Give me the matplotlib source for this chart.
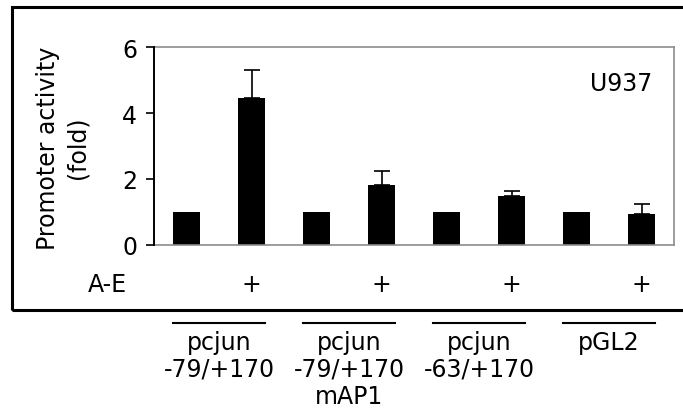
import matplotlib
matplotlib.use("Agg")
import matplotlib.pyplot as plt
import matplotlib.transforms as mtrans
from matplotlib.lines import Line2D
from matplotlib.patches import Rectangle
import numpy as np

# fold promoter activity, U937 cells; odd bars = control, even = + A-E
values = [1.0, 4.45, 1.0, 1.83, 1.0, 1.47, 1.0, 0.93]
errors = [0.0, 0.84, 0.0, 0.42, 0.0, 0.18, 0.0, 0.30]
ae_marks = ["", "+", "", "+", "", "+", "", "+"]
groups = ["pcjun\n-79/+170", "pcjun\n-79/+170\nmAP1", "pcjun\n-63/+170", "pGL2"]
yticks = [0, 2, 4, 6]

W, H = 683, 414
FS = 17
GRAY = "#8c8c8c"

plt.rcParams["font.family"] = "DejaVu Sans"

fig = plt.figure(figsize=(W / 100, H / 100), dpi=100)
ax = fig.add_axes([154 / W, 1 - 246 / H, 520 / W, 198 / H])

x = np.arange(len(values)) + 0.5
ax.bar(x, values, width=0.43, color="black", zorder=2)
has_err = np.array(errors) > 0
ax.errorbar(x[has_err], np.array(values)[has_err],
            yerr=[np.zeros(has_err.sum()), np.array(errors)[has_err]],
            fmt="none", ecolor="black", elinewidth=1.2, capsize=6, capthick=1.2,
            zorder=1)

ax.set_xlim(0, len(values))
ax.set_ylim(0, 6)
ax.set_yticks(yticks)
ax.set_xticks([])
ax.tick_params(axis="y", direction="out", length=6, width=1.2, labelsize=FS,
               pad=6, colors="black")
for s in ("top", "right", "bottom"):
    ax.spines[s].set_color(GRAY)
    ax.spines[s].set_linewidth(1.2)
ax.spines["left"].set_color("black")
ax.spines["left"].set_linewidth(1.4)
ax.spines["left"].set_zorder(3)

ax.text(0.958, 0.82, "U937", transform=ax.transAxes, ha="right", va="center",
        fontsize=FS)

fig.text(63 / W, 1 - 148 / H, "Promoter activity\n(fold)", rotation=90,
         ha="center", va="center", fontsize=FS, linespacing=1.3)

# A-E row below the axis
blend = mtrans.blended_transform_factory(ax.transData, fig.transFigure)
fig.text(127 / W, 1 - 285 / H, "A-E", ha="right", va="center", fontsize=FS)
for xi, m in zip(x, ae_marks):
    if m:
        ax.text(xi, 1 - 285 / H, m, transform=blend, ha="center", va="center",
                fontsize=FS)

# outer frame around plot area (right side runs off the image)
fig.patches.append(Rectangle((12 / W, 1 - 311 / H), 690 / W, 303 / H,
                             transform=fig.transFigure, fill=False,
                             edgecolor="black", linewidth=2.2))

# construct labels with overlines
for g, lab in enumerate(groups):
    cx = 2 * g + 1
    ax.add_line(Line2D([cx - 0.71, cx + 0.71], [1 - 324 / H, 1 - 324 / H],
                       transform=blend, color="black", lw=1.5, clip_on=False))
    ax.text(cx, 1 - 331 / H, lab, transform=blend, ha="center", va="top",
            fontsize=FS, linespacing=1.15)

fig.savefig("out.png", dpi=100, facecolor="white")
